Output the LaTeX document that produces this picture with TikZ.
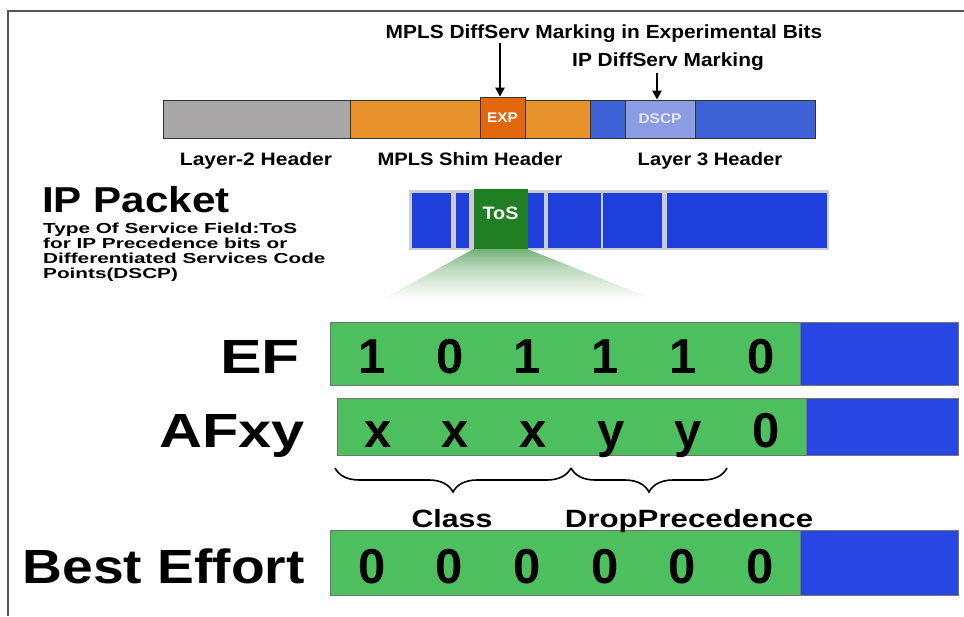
\documentclass[tikz,border=0pt]{standalone}
\usepackage{fontspec}
\setmainfont{Liberation Sans}
\usetikzlibrary{arrows.meta,decorations.pathreplacing}

\definecolor{hdrgray}{HTML}{A9A7A8}
\definecolor{shimorange}{HTML}{E8922C}
\definecolor{exporange}{HTML}{E2680F}
\definecolor{lthreeblue}{HTML}{3D62D6}
\definecolor{dscpblue}{HTML}{8C9CE3}
\definecolor{pktblue}{HTML}{1F3FDD}
\definecolor{pktgap}{HTML}{CACCD8}
\definecolor{tosgreen}{HTML}{1F7F22}
\definecolor{bitgreen}{HTML}{4DBF5F}
\definecolor{rowblue}{HTML}{2846E2}
\definecolor{framegray}{HTML}{555555}

% green cone below the ToS field, fading into the page
\pgfdeclareverticalshading{tosfan}{100bp}{color(0bp)=(white); color(40bp)=(white);
  color(62bp)=(tosgreen!30!white); color(82bp)=(tosgreen!80!white); color(100bp)=(tosgreen)}

\newcommand\hx[2]{\scalebox{#1}[1]{#2}}

\tikzset{
  seg/.style={draw=black!80, line width=0.8pt, inner sep=0, minimum height=38},
  pkt/.style={fill=pktblue, inner sep=0, minimum height=55},
  bits/.style={draw=black!55, line width=0.8pt, fill=bitgreen, inner sep=0},
  tail/.style={draw=black!55, line width=0.8pt, fill=rowblue, inner sep=0},
  lbl/.style={font=\bfseries\fontsize{18}{18}\selectfont, inner sep=0},
  toplbl/.style={font=\bfseries\fontsize{19}{19}\selectfont, inner sep=0},
  brlbl/.style={font=\bfseries\fontsize{25}{25}\selectfont, inner sep=0, anchor=base},
  notelbl/.style={font=\bfseries\fontsize{14.5}{15}\selectfont, inner sep=0, anchor=base west},
  big/.style={font=\bfseries\fontsize{48}{48}\selectfont, inner sep=0},
  digit/.style={font=\bfseries\fontsize{49}{49}\selectfont, inner sep=0, anchor=base},
  inbox/.style={font=\bfseries\fontsize{14}{14}\selectfont, text=white, inner sep=0},
  marker/.style={line width=2.6pt, -{Triangle[length=9pt,width=9pt]}},
  bracestyle/.style={decorate, decoration={brace, mirror, amplitude=24pt}, line width=1.6pt},
}

\begin{document}
\begin{tikzpicture}[x=1pt, y=-1pt]
\useasboundingbox (0,0) rectangle (964,616);
\fill[white] (0,0) rectangle (964,616);

% page frame
\draw[framegray, line width=1.8pt] (8,616) -- (8,11) -- (964,11);

% ---- MPLS frame header ----
\node[seg, fill=hdrgray, minimum width=187] (l2) at (256.5,119) {};
\node[seg, fill=shimorange, minimum width=240] (shim) at (470,119) {};
\node[seg, fill=lthreeblue, minimum width=225] (l3) at (702.5,119) {};
\node[seg, fill=exporange, minimum width=45, minimum height=41] (exp) at (502.5,117.5) {};
\node[seg, fill=dscpblue, minimum width=70] (dscp) at (660,119) {};
\node[inbox] at (exp.center) {\hx{1.1}{EXP}};
\node[inbox, text=white!90!blue] at (dscp.center) {\hx{1.1}{DSCP}};

\node[lbl, anchor=base] (lab2) at (256,165) {\hx{1.17}{Layer-2 Header}};
\node[lbl, anchor=base] (labshim) at (470,165) {\hx{1.12}{MPLS Shim Header}};
\node[lbl, anchor=base] (lab3) at (710,165) {\hx{1.12}{Layer 3 Header}};

\node[toplbl, anchor=base] (mplsmark) at (604,38) {\hx{1.1}{MPLS DiffServ Marking in Experimental Bits}};
\node[toplbl, anchor=base] (ipmark) at (668,66) {\hx{1.1}{IP DiffServ Marking}};
\coordinate (m1) at (500,43);
\coordinate (m2) at (657,73);
\draw[marker] (m1) -- (m1 |- exp.north);
\draw[marker] (m2) -- (m2 |- dscp.north);

% ---- IP packet ----
\node[anchor=base west, inner sep=0, font=\bfseries\fontsize{36}{36}\selectfont] (iptitle) at (42,212) {\hx{1.17}{IP Packet}};
\node[notelbl] (note1) at (43,233) {\hx{1.43}{Type Of Service Field:ToS}};
\node[notelbl] (note2) at (43,248) {\hx{1.43}{for IP Precedence bits or}};
\node[notelbl] (note3) at (43,263) {\hx{1.43}{Differentiated Services Code}};
\node[notelbl] (note4) at (43,278) {\hx{1.43}{Points(DSCP)}};

\fill[pktgap] (409,190) rectangle (829,250);
\node[pkt, minimum width=39] (p1) at (431,220.5) {};
\node[pkt, minimum width=13] (p2) at (462,220.5) {};
\node[pkt, minimum width=16] (p3) at (535.5,220.5) {};
\node[pkt, minimum width=53] (p4) at (574.5,220.5) {};
\node[pkt, minimum width=59] (p5) at (632.5,220.5) {};
\node[pkt, minimum width=160] (p6) at (747,220.5) {};
\node[fill=tosgreen, inner sep=0, minimum width=54, minimum height=60] (tos) at (500.5,219) {};
\node[font=\bfseries\fontsize{18}{18}\selectfont, text=white, inner sep=0] at (500.5,213) {\hx{1.1}{ToS}};

\shade[shading=tosfan] (tos.south west) -- (tos.south east) -- (705,320) -- (345,320) -- cycle;

% ---- DSCP code points ----
\node[bits, minimum width=470, minimum height=63] (efbits) at (565,353.5) {};
\node[tail, minimum width=158, minimum height=63] (eftail) at (879,353.5) {};
\node[bits, minimum width=469, minimum height=57] (afbits) at (571.5,426.5) {};
\node[tail, minimum width=152, minimum height=57] (aftail) at (882,426.5) {};
\node[bits, minimum width=470, minimum height=65] (bebits) at (565,562.5) {};
\node[tail, minimum width=158, minimum height=65] (betail) at (879,562.5) {};

\node[big, anchor=base east] (ef) at (300,373) {\hx{1.3}{EF}};
\node[big, anchor=base east] (af) at (305,447) {\hx{1.24}{AFxy}};
\node[big, anchor=base east] (be) at (305,583) {\hx{1.15}{Best Effort}};

\foreach \v [count=\i from 0] in {1,0,1,1,1,0}
  \node[digit] (ef\i) at (372+77.8*\i,373) {\v};
\foreach \v [count=\i from 0] in {x,x,x,y,y,0}
  \node[digit] (af\i) at (378+77.6*\i,447) {\v};
\foreach \v [count=\i from 0] in {0,0,0,0,0,0}
  \node[digit] (be\i) at (372+77.6*\i,583) {\v};

% class and drop-precedence groups
\coordinate (b0) at (335,468);
\coordinate (b1) at (571,468);
\coordinate (b2) at (727,468);
\draw[bracestyle] (b0) -- (b1);
\draw[bracestyle] (b1) -- (b2);
\node[brlbl] (class) at (452,527) {\hx{1.21}{Class}};
\node[brlbl] (drop) at (689,527) {\hx{1.25}{DropPrecedence}};
\end{tikzpicture}
\end{document}
